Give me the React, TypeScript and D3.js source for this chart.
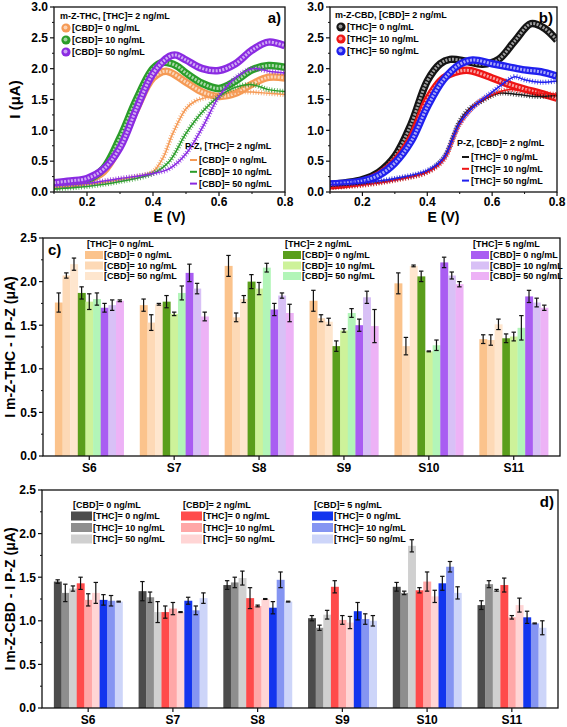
import React from 'react';
import * as d3 from 'd3';

const FONT = 'Arial, "Liberation Sans", Helvetica, sans-serif';

// ---------- Panel a: m-Z-THC / P-Z, [THC] = 2 ng/mL ----------
const A_MZ_CBD0_E = [0.10, 0.15, 0.20, 0.25, 0.30, 0.35, 0.40, 0.44, 0.50, 0.55, 0.60, 0.65, 0.70, 0.75, 0.80];
const A_MZ_CBD0_I = [0.12, 0.15, 0.19, 0.33, 0.75, 1.35, 1.85, 1.96, 1.78, 1.62, 1.55, 1.60, 1.75, 1.86, 1.85];
const A_MZ_CBD10_E = [0.10, 0.15, 0.20, 0.25, 0.30, 0.35, 0.40, 0.43, 0.47, 0.50, 0.55, 0.60, 0.65, 0.70, 0.75, 0.80];
const A_MZ_CBD10_I = [0.10, 0.13, 0.19, 0.38, 0.88, 1.50, 2.00, 2.10, 2.05, 1.93, 1.76, 1.68, 1.80, 1.98, 2.05, 2.02];
const A_MZ_CBD50_E = [0.10, 0.15, 0.20, 0.25, 0.30, 0.35, 0.40, 0.45, 0.47, 0.50, 0.55, 0.60, 0.65, 0.70, 0.75, 0.80];
const A_MZ_CBD50_I = [0.15, 0.18, 0.22, 0.37, 0.72, 1.35, 1.92, 2.20, 2.22, 2.14, 2.00, 1.97, 2.08, 2.30, 2.43, 2.37];
const A_PZ_CBD0_E = [0.10, 0.20, 0.30, 0.35, 0.40, 0.43, 0.46, 0.50, 0.53, 0.58, 0.65, 0.70, 0.75, 0.80];
const A_PZ_CBD0_I = [0.07, 0.12, 0.20, 0.25, 0.33, 0.55, 0.95, 1.35, 1.48, 1.55, 1.62, 1.62, 1.60, 1.58];
const A_PZ_CBD10_E = [0.10, 0.20, 0.30, 0.40, 0.45, 0.50, 0.55, 0.60, 0.65, 0.70, 0.75, 0.80];
const A_PZ_CBD10_I = [0.05, 0.09, 0.17, 0.30, 0.50, 0.95, 1.30, 1.55, 1.70, 1.74, 1.66, 1.63];
const A_PZ_CBD50_E = [0.10, 0.20, 0.30, 0.40, 0.45, 0.50, 0.55, 0.60, 0.65, 0.70, 0.75, 0.80];
const A_PZ_CBD50_I = [0.10, 0.14, 0.22, 0.30, 0.38, 0.62, 1.05, 1.55, 1.85, 2.00, 1.96, 1.93];

// ---------- Panel b: m-Z-CBD / P-Z, [CBD] = 2 ng/mL ----------
const B_MZ_THC0_E = [0.10, 0.15, 0.20, 0.25, 0.30, 0.35, 0.40, 0.44, 0.47, 0.52, 0.57, 0.62, 0.67, 0.72, 0.76, 0.80];
const B_MZ_THC0_I = [0.12, 0.15, 0.20, 0.32, 0.58, 1.10, 1.80, 2.08, 2.15, 2.12, 2.07, 2.15, 2.45, 2.73, 2.66, 2.46];
const B_MZ_THC10_E = [0.10, 0.20, 0.25, 0.30, 0.35, 0.40, 0.45, 0.50, 0.53, 0.60, 0.65, 0.70, 0.75, 0.80];
const B_MZ_THC10_I = [0.10, 0.17, 0.28, 0.50, 0.88, 1.50, 1.85, 1.96, 1.97, 1.85, 1.75, 1.67, 1.60, 1.52];
const B_MZ_THC50_E = [0.10, 0.20, 0.25, 0.30, 0.35, 0.40, 0.45, 0.50, 0.54, 0.60, 0.65, 0.70, 0.75, 0.80];
const B_MZ_THC50_I = [0.13, 0.18, 0.27, 0.47, 0.82, 1.38, 1.82, 2.07, 2.14, 2.08, 2.03, 1.98, 1.95, 1.88];
const B_PZ_THC0_E = [0.10, 0.20, 0.30, 0.40, 0.45, 0.48, 0.50, 0.53, 0.57, 0.62, 0.68, 0.74, 0.80];
const B_PZ_THC0_I = [0.08, 0.12, 0.20, 0.33, 0.55, 0.90, 1.15, 1.35, 1.48, 1.60, 1.58, 1.55, 1.57];
const B_PZ_THC10_E = [0.10, 0.20, 0.30, 0.40, 0.45, 0.50, 0.55, 0.60, 0.65, 0.70, 0.75, 0.80];
const B_PZ_THC10_I = [0.07, 0.11, 0.19, 0.32, 0.52, 1.10, 1.42, 1.58, 1.66, 1.63, 1.60, 1.58];
const B_PZ_THC50_E = [0.10, 0.20, 0.30, 0.40, 0.45, 0.50, 0.55, 0.60, 0.65, 0.67, 0.70, 0.75, 0.80];
const B_PZ_THC50_I = [0.12, 0.15, 0.22, 0.35, 0.55, 1.12, 1.42, 1.62, 1.82, 1.87, 1.82, 1.78, 1.80];

// ---------- Bar panels ----------
const SAMPLES = ['S6', 'S7', 'S8', 'S9', 'S10', 'S11'];

// Panel c: I m-Z-THC - I P-Z
const C_THC0_CBD0 = [1.76, 1.73, 2.18, 1.78, 1.98, 1.34];
const C_THC0_CBD0_ERR = [0.11, 0.07, 0.12, 0.12, 0.12, 0.05];
const C_THC0_CBD10 = [2.07, 1.53, 1.59, 1.58, 1.26, 1.33];
const C_THC0_CBD10_ERR = [0.03, 0.09, 0.05, 0.04, 0.10, 0.06];
const C_THC0_CBD50 = [2.20, 1.74, 1.80, 1.54, 2.18, 1.51];
const C_THC0_CBD50_ERR = [0.07, 0.01, 0.04, 0.04, 0.01, 0.06];
const C_THC2_CBD0 = [1.87, 1.77, 2.00, 1.26, 2.06, 1.35];
const C_THC2_CBD0_ERR = [0.07, 0.07, 0.08, 0.06, 0.06, 0.05];
const C_THC2_CBD10 = [1.77, 1.63, 1.92, 1.44, 1.20, 1.37];
const C_THC2_CBD10_ERR = [0.09, 0.02, 0.07, 0.02, 0.005, 0.05];
const C_THC2_CBD50 = [1.80, 1.87, 2.16, 1.64, 1.27, 1.47];
const C_THC2_CBD50_ERR = [0.07, 0.08, 0.05, 0.05, 0.06, 0.14];
const C_THC5_CBD0 = [1.70, 2.10, 1.68, 1.50, 2.22, 1.83];
const C_THC5_CBD0_ERR = [0.05, 0.10, 0.07, 0.07, 0.06, 0.07];
const C_THC5_CBD10 = [1.73, 1.92, 1.84, 1.82, 2.07, 1.76];
const C_THC5_CBD10_ERR = [0.06, 0.06, 0.03, 0.07, 0.04, 0.05];
const C_THC5_CBD50 = [1.78, 1.60, 1.64, 1.49, 1.97, 1.70];
const C_THC5_CBD50_ERR = [0.01, 0.05, 0.10, 0.19, 0.03, 0.03];

// Panel d: I m-Z-CBD - I P-Z
const D_CBD0_THC0 = [1.45, 1.34, 1.41, 1.03, 1.39, 1.18];
const D_CBD0_THC0_ERR = [0.02, 0.11, 0.05, 0.03, 0.05, 0.05];
const D_CBD0_THC10 = [1.32, 1.27, 1.44, 0.92, 1.32, 1.42];
const D_CBD0_THC10_ERR = [0.10, 0.06, 0.06, 0.03, 0.02, 0.04];
const D_CBD0_THC50 = [1.37, 1.10, 1.49, 1.07, 1.86, 1.35];
const D_CBD0_THC50_ERR = [0.03, 0.12, 0.08, 0.05, 0.07, 0.01];
const D_CBD2_THC0 = [1.43, 1.10, 1.26, 1.39, 1.35, 1.41];
const D_CBD2_THC0_ERR = [0.07, 0.07, 0.12, 0.07, 0.03, 0.08];
const D_CBD2_THC10 = [1.24, 1.14, 1.17, 1.01, 1.45, 1.04];
const D_CBD2_THC10_ERR = [0.07, 0.07, 0.01, 0.05, 0.11, 0.02];
const D_CBD2_THC50 = [1.32, 1.10, 1.25, 0.98, 1.28, 1.18];
const D_CBD2_THC50_ERR = [0.12, 0.005, 0.005, 0.07, 0.07, 0.08];
const D_CBD5_THC0 = [1.24, 1.23, 1.15, 1.11, 1.43, 1.04];
const D_CBD5_THC0_ERR = [0.06, 0.04, 0.07, 0.10, 0.08, 0.07];
const D_CBD5_THC10 = [1.23, 1.12, 1.47, 1.02, 1.62, 0.97];
const D_CBD5_THC10_ERR = [0.06, 0.05, 0.09, 0.06, 0.06, 0.005];
const D_CBD5_THC50 = [1.22, 1.26, 1.22, 1.00, 1.32, 0.92];
const D_CBD5_THC50_ERR = [0.005, 0.06, 0.005, 0.06, 0.07, 0.08];

const Y_TICKS_LINE = [0, 0.5, 1.0, 1.5, 2.0, 2.5, 3.0];
const X_TICKS_LINE = [0.2, 0.4, 0.6, 0.8];
const Y_TICKS_BAR = [0, 0.5, 1.0, 1.5, 2.0, 2.5];

type Curve = { E: number[]; I: number[]; color: string; kind: 'mz' | 'pz' };

const zip = (E: number[], I: number[]) => E.map((e, i) => [e, I[i]] as [number, number]);
const lighten = (c: string, t: number) => d3.interpolateRgb(c, '#ffffff')(t);

function LinePanel(props: {
  left: number; right: number; top: number; bottom: number;
  curves: Curve[]; yLabel?: string; tag: string; id: string;
  mzTitle: string; mzLabels: string[]; mzColors: string[]; mzPos: [number, number];
  pzTitle: string; pzLabels: string[]; pzColors: string[]; pzPos: [number, number];
}) {
  const { left, right, top, bottom, curves, id } = props;
  const x = d3.scaleLinear().domain([0.1, 0.8]).range([left, right]);
  const y = d3.scaleLinear().domain([0, 3]).range([bottom, top]);
  const line = d3.line<[number, number]>()
    .x(d => x(d[0])).y(d => y(d[1]))
    .curve(d3.curveCatmullRom.alpha(0.5));
  const xMinor = d3.range(0.1, 0.81, 0.1).filter(v => !X_TICKS_LINE.some(t => Math.abs(t - v) < 1e-6));
  const yMinor = d3.range(0.25, 3, 0.5);
  const mz = curves.filter(c => c.kind === 'mz');
  const pz = curves.filter(c => c.kind === 'pz');
  return (
    <g>
      <defs>
        <clipPath id={id}>
          <rect x={left} y={top} width={right - left} height={bottom - top} />
        </clipPath>
      </defs>
      <g clipPath={`url(#${id})`}>
        {mz.map((c, i) => {
          const d = line(zip(c.E, c.I)) || '';
          return (
            <g key={'m' + i}>
              <path d={d} fill="none" stroke={c.color} strokeWidth={7.5} strokeLinejoin="round" />
              <path d={d} fill="none" stroke={lighten(c.color, 0.6)} strokeWidth={3} strokeDasharray="2 1.4" />
            </g>
          );
        })}
        {pz.map((c, i) => {
          const d = line(zip(c.E, c.I)) || '';
          return (
            <g key={'p' + i}>
              <path d={d} fill="none" stroke={c.color} strokeWidth={1.5} />
              <path d={d} fill="none" stroke={c.color} strokeWidth={5} strokeDasharray="0.9 1.8" opacity={0.8} />
            </g>
          );
        })}
      </g>
      <rect x={left} y={top} width={right - left} height={bottom - top} fill="none" stroke="#111" strokeWidth={1.3} />
      {Y_TICKS_LINE.map(t => (
        <g key={'y' + t}>
          <line x1={left - 4} x2={left} y1={y(t)} y2={y(t)} stroke="#111" strokeWidth={1.2} />
          <text x={left - 6} y={y(t)} dy="0.36em" textAnchor="end" fontSize={12} fontWeight="bold" fontFamily={FONT}>{t.toFixed(1)}</text>
        </g>
      ))}
      {yMinor.map(t => (
        <line key={'ym' + t} x1={left - 2} x2={left} y1={y(t)} y2={y(t)} stroke="#111" strokeWidth={1} />
      ))}
      {X_TICKS_LINE.map(t => (
        <g key={'x' + t}>
          <line x1={x(t)} x2={x(t)} y1={bottom} y2={bottom + 4} stroke="#111" strokeWidth={1.2} />
          <text x={x(t)} y={bottom + 14} textAnchor="middle" fontSize={12} fontWeight="bold" fontFamily={FONT}>{t.toFixed(1)}</text>
        </g>
      ))}
      {xMinor.map(t => (
        <line key={'xm' + t} x1={x(t)} x2={x(t)} y1={bottom} y2={bottom + 2} stroke="#111" strokeWidth={1} />
      ))}
      <text x={(left + right) / 2} y={bottom + 30} textAnchor="middle" fontSize={14} fontWeight="bold" fontFamily={FONT}>E (V)</text>
      {props.yLabel && (
        <text transform={`translate(${20},${(top + bottom) / 2}) rotate(-90)`} textAnchor="middle" fontSize={15} fontWeight="bold" fontFamily={FONT}>{props.yLabel}</text>
      )}
      <text x={right - 4} y={top + 16} textAnchor="end" fontSize={15} fontWeight="bold" fontFamily={FONT}>{props.tag}</text>
      <g fontFamily={FONT} fontWeight="bold" fontSize={9}>
        <text x={props.mzPos[0]} y={props.mzPos[1]}>{props.mzTitle}</text>
        {props.mzLabels.map((l, i) => {
          const cy = props.mzPos[1] + 9 + i * 12;
          return (
            <g key={l}>
              <circle cx={props.mzPos[0] + 6} cy={cy} r={4.6} fill={props.mzColors[i]} />
              <circle cx={props.mzPos[0] + 5.5} cy={cy - 0.5} r={2} fill={lighten(props.mzColors[i], 0.55)} />
              <text x={props.mzPos[0] + 12} y={cy} dy="0.35em">{l}</text>
            </g>
          );
        })}
        <text x={props.pzPos[0]} y={props.pzPos[1]}>{props.pzTitle}</text>
        {props.pzLabels.map((l, i) => {
          const cy = props.pzPos[1] + 11 + i * 11.8;
          return (
            <g key={l}>
              <line x1={props.pzPos[0] + 5} x2={props.pzPos[0] + 12} y1={cy} y2={cy} stroke={props.pzColors[i]} strokeWidth={2} />
              <text x={props.pzPos[0] + 14} y={cy} dy="0.35em">{l}</text>
            </g>
          );
        })}
      </g>
    </g>
  );
}

type BarSeries = { values: number[]; errs: number[]; color: string };
type LegendGroup = { title: string; x: number; labels: string[]; colors: string[] };

function BarPanel(props: {
  left: number; right: number; top: number; bottom: number;
  series: BarSeries[]; yLabel: string; tag: string; tagRight?: boolean;
  legend: LegendGroup[]; legendY: number; rowGap: number; swW: number; swH: number;
}) {
  const { left, right, top, bottom, series } = props;
  const x = d3.scaleBand<string>().domain(SAMPLES).range([left, right]).paddingInner(0.19).paddingOuter(0.14);
  const xs = d3.scaleBand<number>().domain(d3.range(series.length)).range([0, x.bandwidth()]);
  const y = d3.scaleLinear().domain([0, 2.5]).range([bottom, top]);
  const yMinor = d3.range(0.25, 2.5, 0.5);
  return (
    <g>
      {series.map((s, si) => (
        <g key={'s' + si}>
          {SAMPLES.map((cat, ci) => (
            <rect key={cat} x={(x(cat) || 0) + (xs(si) || 0)} y={y(s.values[ci])}
              width={xs.bandwidth() + 0.3} height={bottom - y(s.values[ci])} fill={s.color} />
          ))}
        </g>
      ))}
      {series.map((s, si) => (
        <g key={'e' + si} stroke="#111" strokeWidth={1.2}>
          {SAMPLES.map((cat, ci) => {
            const cx = (x(cat) || 0) + (xs(si) || 0) + xs.bandwidth() / 2;
            const v = s.values[ci], e = Math.max(s.errs[ci], 0.004);
            return (
              <g key={cat}>
                <line x1={cx} x2={cx} y1={y(v - e)} y2={y(v + e)} />
                <line x1={cx - 2.2} x2={cx + 2.2} y1={y(v - e)} y2={y(v - e)} />
                <line x1={cx - 2.2} x2={cx + 2.2} y1={y(v + e)} y2={y(v + e)} />
              </g>
            );
          })}
        </g>
      ))}
      <rect x={left} y={top} width={right - left} height={bottom - top} fill="none" stroke="#111" strokeWidth={1.3} />
      {Y_TICKS_BAR.map(t => (
        <g key={'y' + t}>
          <line x1={left - 4} x2={left} y1={y(t)} y2={y(t)} stroke="#111" strokeWidth={1.2} />
          <text x={left - 6} y={y(t)} dy="0.36em" textAnchor="end" fontSize={12} fontWeight="bold" fontFamily={FONT}>{t.toFixed(1)}</text>
        </g>
      ))}
      {yMinor.map(t => (
        <line key={'ym' + t} x1={left - 2} x2={left} y1={y(t)} y2={y(t)} stroke="#111" strokeWidth={1} />
      ))}
      {SAMPLES.map(cat => {
        const cx = (x(cat) || 0) + x.bandwidth() / 2;
        return (
          <g key={cat}>
            <line x1={cx} x2={cx} y1={bottom} y2={bottom + 4} stroke="#111" strokeWidth={1.2} />
            <text x={cx} y={bottom + 16} textAnchor="middle" fontSize={12} fontWeight="bold" fontFamily={FONT}>{cat}</text>
          </g>
        );
      })}
      <text transform={`translate(${15},${(top + bottom) / 2}) rotate(-90)`} textAnchor="middle" fontSize={14} fontWeight="bold" fontFamily={FONT}>{props.yLabel}</text>
      <text x={props.tagRight ? right - 4 : left + 5} y={top + 17} textAnchor={props.tagRight ? 'end' : 'start'} fontSize={15} fontWeight="bold" fontFamily={FONT}>{props.tag}</text>
      <g fontFamily={FONT} fontWeight="bold" fontSize={9}>
        {props.legend.map(g => (
          <g key={g.title}>
            <text x={g.x + 2} y={props.legendY}>{g.title}</text>
            {g.labels.map((l, i) => {
              const cy = props.legendY + 8 + i * props.rowGap;
              return (
                <g key={l}>
                  <rect x={g.x} y={cy - props.swH / 2} width={props.swW} height={props.swH} fill={g.colors[i]} />
                  <text x={g.x + props.swW + 1} y={cy} dy="0.35em">{l}</text>
                </g>
              );
            })}
          </g>
        ))}
      </g>
    </g>
  );
}

const A_COLORS = ['#F59A55', '#2A9D2A', '#8A2BE2'];
const B_COLORS = ['#151515', '#EE1515', '#2020EE'];
const C_COLORS = ['#FBC38C', '#FDD9B6', '#FEE6CE', '#5A9E1C', '#CDF29A', '#B2F5B8', '#A95DF2', '#D8C0F6', '#EDB2F6'];
const D_COLORS = ['#4C4C4C', '#8E8E8E', '#D0D0D0', '#FF4B4B', '#FFA7A7', '#FFD5D5', '#1335EE', '#8595F2', '#CDD5F9'];

export default function App() {
  const aCurves: Curve[] = [
    { E: A_MZ_CBD0_E, I: A_MZ_CBD0_I, color: A_COLORS[0], kind: 'mz' },
    { E: A_MZ_CBD10_E, I: A_MZ_CBD10_I, color: A_COLORS[1], kind: 'mz' },
    { E: A_MZ_CBD50_E, I: A_MZ_CBD50_I, color: A_COLORS[2], kind: 'mz' },
    { E: A_PZ_CBD0_E, I: A_PZ_CBD0_I, color: A_COLORS[0], kind: 'pz' },
    { E: A_PZ_CBD10_E, I: A_PZ_CBD10_I, color: A_COLORS[1], kind: 'pz' },
    { E: A_PZ_CBD50_E, I: A_PZ_CBD50_I, color: A_COLORS[2], kind: 'pz' },
  ];
  const bCurves: Curve[] = [
    { E: B_MZ_THC0_E, I: B_MZ_THC0_I, color: B_COLORS[0], kind: 'mz' },
    { E: B_MZ_THC10_E, I: B_MZ_THC10_I, color: B_COLORS[1], kind: 'mz' },
    { E: B_MZ_THC50_E, I: B_MZ_THC50_I, color: B_COLORS[2], kind: 'mz' },
    { E: B_PZ_THC0_E, I: B_PZ_THC0_I, color: B_COLORS[0], kind: 'pz' },
    { E: B_PZ_THC10_E, I: B_PZ_THC10_I, color: B_COLORS[1], kind: 'pz' },
    { E: B_PZ_THC50_E, I: B_PZ_THC50_I, color: B_COLORS[2], kind: 'pz' },
  ];
  const cSeries: BarSeries[] = [
    { values: C_THC0_CBD0, errs: C_THC0_CBD0_ERR, color: C_COLORS[0] },
    { values: C_THC0_CBD10, errs: C_THC0_CBD10_ERR, color: C_COLORS[1] },
    { values: C_THC0_CBD50, errs: C_THC0_CBD50_ERR, color: C_COLORS[2] },
    { values: C_THC2_CBD0, errs: C_THC2_CBD0_ERR, color: C_COLORS[3] },
    { values: C_THC2_CBD10, errs: C_THC2_CBD10_ERR, color: C_COLORS[4] },
    { values: C_THC2_CBD50, errs: C_THC2_CBD50_ERR, color: C_COLORS[5] },
    { values: C_THC5_CBD0, errs: C_THC5_CBD0_ERR, color: C_COLORS[6] },
    { values: C_THC5_CBD10, errs: C_THC5_CBD10_ERR, color: C_COLORS[7] },
    { values: C_THC5_CBD50, errs: C_THC5_CBD50_ERR, color: C_COLORS[8] },
  ];
  const dSeries: BarSeries[] = [
    { values: D_CBD0_THC0, errs: D_CBD0_THC0_ERR, color: D_COLORS[0] },
    { values: D_CBD0_THC10, errs: D_CBD0_THC10_ERR, color: D_COLORS[1] },
    { values: D_CBD0_THC50, errs: D_CBD0_THC50_ERR, color: D_COLORS[2] },
    { values: D_CBD2_THC0, errs: D_CBD2_THC0_ERR, color: D_COLORS[3] },
    { values: D_CBD2_THC10, errs: D_CBD2_THC10_ERR, color: D_COLORS[4] },
    { values: D_CBD2_THC50, errs: D_CBD2_THC50_ERR, color: D_COLORS[5] },
    { values: D_CBD5_THC0, errs: D_CBD5_THC0_ERR, color: D_COLORS[6] },
    { values: D_CBD5_THC10, errs: D_CBD5_THC10_ERR, color: D_COLORS[7] },
    { values: D_CBD5_THC50, errs: D_CBD5_THC50_ERR, color: D_COLORS[8] },
  ];
  const cbdLabels = ['[CBD]= 0 ng/mL', '[CBD]= 10 ng/mL', '[CBD]= 50 ng/mL'];
  const thcLabels = ['[THC]= 0 ng/mL', '[THC]= 10 ng/mL', '[THC]= 50 ng/mL'];
  return (
    <svg width={567} height={727} style={{ position: 'absolute', left: 0, top: 0, background: '#fff' }}>
      <LinePanel id="clipA" left={54} right={285} top={7} bottom={192} curves={aCurves} yLabel="I (μA)" tag="a)"
        mzTitle="m-Z-THC, [THC]= 2 ng/mL" mzLabels={cbdLabels} mzColors={A_COLORS} mzPos={[60, 19]}
        pzTitle="P-Z, [THC]= 2 ng/mL" pzLabels={cbdLabels} pzColors={A_COLORS} pzPos={[185, 149]} />
      <LinePanel id="clipB" left={330} right={557} top={7} bottom={192} curves={bCurves} tag="b)"
        mzTitle="m-Z-CBD, [CBD]= 2 ng/mL" mzLabels={thcLabels} mzColors={B_COLORS} mzPos={[335, 18]}
        pzTitle="P-Z, [CBD]= 2 ng/mL" pzLabels={thcLabels} pzColors={B_COLORS} pzPos={[457, 146]} />
      <BarPanel left={43} right={560} top={238} bottom={456} series={cSeries} yLabel="I m-Z-THC - I P-Z (μA)" tag="c)"
        legendY={247} rowGap={10.5} swW={18} swH={8}
        legend={[
          { title: '[THC]= 0 ng/mL', x: 85, labels: cbdLabels, colors: C_COLORS.slice(0, 3) },
          { title: '[THC]= 2 ng/mL', x: 283, labels: cbdLabels, colors: C_COLORS.slice(3, 6) },
          { title: '[THC]= 5 ng/mL', x: 471, labels: cbdLabels, colors: C_COLORS.slice(6, 9) },
        ]} />
      <BarPanel left={42} right={558} top={490} bottom={708} series={dSeries} yLabel="I m-Z-CBD - I P-Z (μA)" tag="d)" tagRight
        legendY={508} rowGap={11.5} swW={21} swH={9}
        legend={[
          { title: '[CBD]= 0 ng/mL', x: 71, labels: thcLabels, colors: D_COLORS.slice(0, 3) },
          { title: '[CBD]= 2 ng/mL', x: 181, labels: thcLabels, colors: D_COLORS.slice(3, 6) },
          { title: '[CBD]= 5 ng/mL', x: 312, labels: thcLabels, colors: D_COLORS.slice(6, 9) },
        ]} />
    </svg>
  );
}
